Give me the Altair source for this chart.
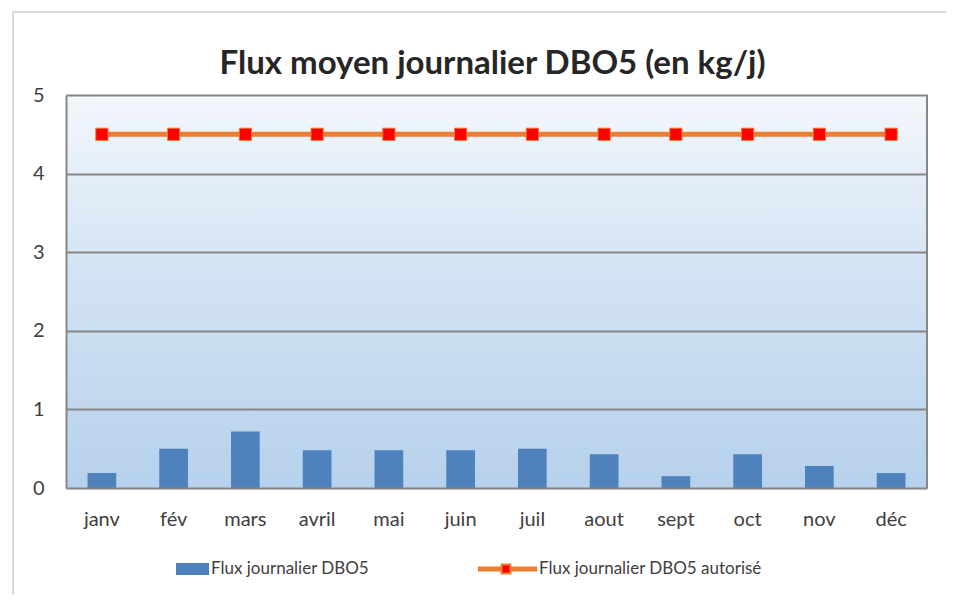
import altair as alt
import pandas as pd

months = ["janv", "fév", "mars", "avril", "mai", "juin", "juil", "aout", "sept", "oct", "nov", "déc"]
flux = [0.19, 0.50, 0.72, 0.48, 0.48, 0.48, 0.50, 0.43, 0.15, 0.43, 0.28, 0.19]
autorise = [4.5] * 12
y_ticks = [0, 1, 2, 3, 4, 5]

title_text = "Flux moyen journalier DBO5 (en kg/j)"
legend_labels = ["Flux journalier  DBO5", "Flux  journalier DBO5 autorisé"]

W, H = 861, 393
FONT = "Lato"

df = pd.DataFrame({"mois": months, "flux": flux, "autorise": autorise})

xenc = alt.X("mois:N", sort=months, scale=alt.Scale(paddingInner=0.6, paddingOuter=0.3),
             axis=alt.Axis(title=None, labelAngle=0, labelFontSize=20, labelColor="#404040",
                           labelFont=FONT, labelPadding=21, ticks=False, domainColor="#d9d9d9",
                           domainWidth=2))
yscale = alt.Scale(domain=[0, 5], nice=False)

bg = alt.Chart(df).mark_rect(
    color=alt.Gradient(gradient="linear", x1=0, y1=0, x2=0, y2=1,
                       stops=[alt.GradientStop(color="#f3f7fc", offset=0),
                              alt.GradientStop(color="#d3e3f3", offset=0.45),
                              alt.GradientStop(color="#b6d1ec", offset=1)])
).encode(x=alt.value(0), x2=alt.value(W), y=alt.value(0), y2=alt.value(H))

# outer chart border
border = alt.Chart(df).mark_rect(fill=None, stroke="#d9d9d9", strokeWidth=2).encode(
    x=alt.value(-53), x2=alt.value(W + 40), y=alt.value(-83), y2=alt.value(H + 120)
)

bars = alt.Chart(df).mark_bar(color="#4f81bd").encode(
    x=xenc,
    y=alt.Y("flux:Q", scale=yscale,
            axis=alt.Axis(title=None, values=y_ticks, format="d", labelFontSize=20,
                          labelColor="#404040", labelFont=FONT, labelPadding=22, ticks=False,
                          grid=True, gridColor="#868686", gridWidth=2, domainColor="#868686",
                          domainWidth=2, zindex=1)),
)

line = alt.Chart(df).mark_line(color="#ED7D31", strokeWidth=5).encode(
    x=alt.X("mois:N", sort=months), y=alt.Y("autorise:Q", scale=yscale)
)
pts = alt.Chart(df).mark_point(shape="square", filled=True, size=150, color="#ff0000",
                               stroke="#ED7D31", strokeWidth=1, opacity=1).encode(
    x=alt.X("mois:N", sort=months), y=alt.Y("autorise:Q", scale=yscale)
)

right = alt.Chart(df).mark_rule(color="#868686", strokeWidth=2).encode(
    x=alt.value(W), y=alt.value(0), y2=alt.value(H)
)

tdf = pd.DataFrame({"t": [title_text]})
title = alt.Chart(tdf).mark_text(fontSize=33, font=FONT, fontWeight="bold", color="#262626",
                                 align="center", baseline="middle").encode(
    x=alt.value(W / 2 - 4), y=alt.value(-31), text="t:N")

# legend
leg = pd.DataFrame({"label": legend_labels})
LY = H + 81
leg_rect = alt.Chart(leg).transform_filter(alt.datum.label == legend_labels[0]).mark_rect(
    color="#4f81bd").encode(x=alt.value(110), x2=alt.value(143), y=alt.value(LY - 6), y2=alt.value(LY + 6))
leg_line = alt.Chart(leg).transform_filter(alt.datum.label == legend_labels[1]).mark_rule(
    color="#ED7D31", strokeWidth=5).encode(x=alt.value(412), x2=alt.value(471), y=alt.value(LY))
leg_pt = alt.Chart(leg).transform_filter(alt.datum.label == legend_labels[1]).mark_point(
    shape="square", filled=True, size=80, color="#ff0000", stroke="#ED7D31", opacity=1).encode(
    x=alt.value(440), y=alt.value(LY))
leg_t1 = alt.Chart(leg).transform_filter(alt.datum.label == legend_labels[0]).mark_text(
    align="left", baseline="middle", fontSize=17, font=FONT, color="#404040").encode(
    x=alt.value(145), y=alt.value(LY), text="label:N")
leg_t2 = alt.Chart(leg).transform_filter(alt.datum.label == legend_labels[1]).mark_text(
    align="left", baseline="middle", fontSize=17, font=FONT, color="#404040").encode(
    x=alt.value(473), y=alt.value(LY), text="label:N")

chart = alt.layer(border, bg, bars, line, pts, right, title, leg_rect, leg_line, leg_pt,
                  leg_t1, leg_t2).properties(
    width=W, height=H,
    autosize=alt.AutoSizeParams(type="none"),
    padding={"left": 58, "top": 87, "right": 19, "bottom": 107},
).configure_view(stroke=None)

chart.save("out.html", embed_options={"renderer": "svg", "actions": False})
